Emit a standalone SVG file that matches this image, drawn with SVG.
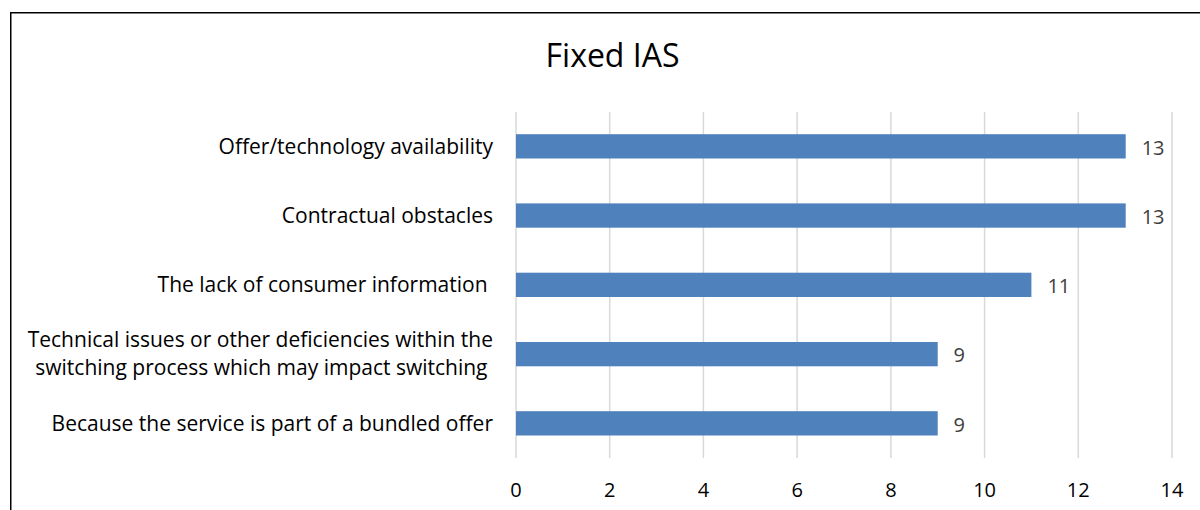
<svg xmlns="http://www.w3.org/2000/svg" width="1200" height="510" viewBox="0 0 1200 510">
<style>
.t{font-family:"Open Sans","Liberation Sans",Arial,sans-serif;fill:#000}
.cat{font-size:21px;text-anchor:end}
.ax{font-size:20px;text-anchor:middle}
.val{font-size:20px;fill:#404040}
.grid{stroke:#d9d9d9;stroke-width:1.5}
.bar{fill:#4f81bd}
</style>
<rect x="0" y="0" width="1200" height="510" fill="#fff"/>
<path d="M10.75,520 V12.75 H1210" fill="none" stroke="#000" stroke-width="1.5"/>
<text id="title" class="t" x="612.5" y="67.3" font-size="32" text-anchor="middle">Fixed IAS</text>
<g id="gridlines">
<line class="grid" x1="516" y1="112" x2="516" y2="458"/>
<line class="grid" x1="609.7" y1="112" x2="609.7" y2="458"/>
<line class="grid" x1="703.4" y1="112" x2="703.4" y2="458"/>
<line class="grid" x1="797.1" y1="112" x2="797.1" y2="458"/>
<line class="grid" x1="890.9" y1="112" x2="890.9" y2="458"/>
<line class="grid" x1="984.6" y1="112" x2="984.6" y2="458"/>
<line class="grid" x1="1078.3" y1="112" x2="1078.3" y2="458"/>
<line class="grid" x1="1172" y1="112" x2="1172" y2="458"/>
</g>
<g id="axis-labels">
<text class="t ax" x="516" y="497">0</text>
<text class="t ax" x="609.7" y="497">2</text>
<text class="t ax" x="703.4" y="497">4</text>
<text class="t ax" x="797.1" y="497">6</text>
<text class="t ax" x="890.9" y="497">8</text>
<text class="t ax" x="984.6" y="497">10</text>
<text class="t ax" x="1078.3" y="497">12</text>
<text class="t ax" x="1172" y="497">14</text>
</g>
<g id="bar1">
<text class="t cat" x="493" y="154">Offer/technology availability</text>
<rect class="bar" x="516" y="134.2" width="609.7" height="24.3"/>
<text class="t val" x="1141.7" y="154.6">13</text>
</g>
<g id="bar2">
<text class="t cat" x="493" y="223.2">Contractual obstacles</text>
<rect class="bar" x="516" y="203.4" width="609.7" height="24.3"/>
<text class="t val" x="1141.7" y="223.8">13</text>
</g>
<g id="bar3">
<text class="t cat" x="493" y="292.2" xml:space="preserve">The lack of consumer information </text>
<rect class="bar" x="516" y="272.7" width="515.4" height="24.3"/>
<text class="t val" x="1047.4" y="293">11</text>
</g>
<g id="bar4">
<text class="t cat" x="493" y="346.9">Technical issues or other deficiencies within the</text>
<text class="t cat" x="487.5" y="375.2">switching process which may impact switching</text>
<rect class="bar" x="516" y="342" width="421.7" height="24.3"/>
<text class="t val" x="953.5" y="362.3">9</text>
</g>
<g id="bar5">
<text class="t cat" x="493" y="430.9">Because the service is part of a bundled offer</text>
<rect class="bar" x="516" y="411.2" width="421.7" height="24.3"/>
<text class="t val" x="953.5" y="431.6">9</text>
</g>
</svg>
